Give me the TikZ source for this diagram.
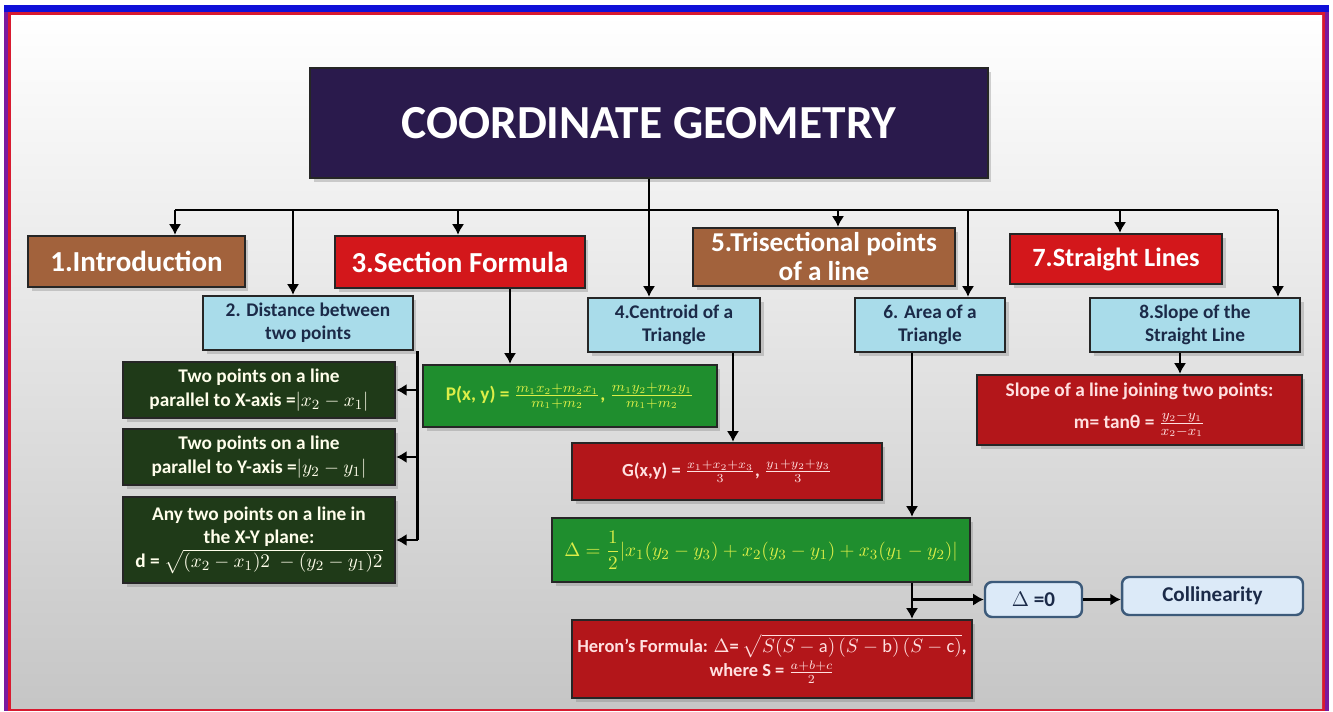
\documentclass[tikz,border=0pt]{standalone}
\usepackage{fontspec}
\setmainfont{Carlito}
\usepackage{amsmath}
\usepackage{xcolor}
\usepackage{tikz}
\usetikzlibrary{
	arrows.meta,shadows
}

\definecolor{titlepurple}{HTML}{2A1A4C}
\definecolor{clay}{HTML}{A2623C}
\definecolor{boxred}{HTML}{D3171B}
\definecolor{darkred}{HTML}{B3161A}
\definecolor{iceblue}{HTML}{A9DCEA}
\definecolor{navy}{HTML}{1B2A48}
\definecolor{forest}{HTML}{1F3A18}
\definecolor{grass}{HTML}{1F8E2E}
\definecolor{lime}{HTML}{DCEE48}
\definecolor{paleblue}{HTML}{DCEAF8}
\definecolor{slateblue}{HTML}{3C5A7A}
\definecolor{frameblue}{HTML}{1010D8}
\definecolor{framepurple}{HTML}{7A1A9E}
\definecolor{framered}{HTML}{D81A30}

\tikzset{
	box/.style={draw=black!85, line width=1.4pt, align=center, inner sep=2pt,
		drop shadow={opacity=0.35, shadow xshift=2pt, shadow yshift=-2pt}},
	titlebox/.style={box, fill=titlepurple, text=white,
		font=\fontsize{27}{32}\selectfont\bfseries},
	claybox/.style={box, fill=clay, text=white, font=\fontsize{16.5}{18}\selectfont\bfseries},
	redbox/.style={box, fill=boxred, text=white, font=\fontsize{16.5}{18}\selectfont\bfseries},
	icebox/.style={box, fill=iceblue, text=navy, font=\fontsize{11}{13}\selectfont\bfseries},
	forestbox/.style={box, fill=forest, text=white!92!yellow, font=\fontsize{11}{13.5}\selectfont\bfseries},
	grassbox/.style={box, fill=grass, text=lime, font=\fontsize{11}{13}\selectfont\bfseries},
	formbox/.style={box, fill=darkred, text=white!88!red, font=\fontsize{10.5}{13}\selectfont\bfseries},
	roundbox/.style={draw=slateblue, line width=1.4pt, rounded corners=4pt, fill=paleblue,
		text=navy, font=\fontsize{12}{14}\selectfont\bfseries},
}

\begin{document}
\begin{tikzpicture}[x=0.02cm, y=-0.02cm, >={Latex[length=6pt,width=7pt]}, line width=1.6pt]
	% frame and background
	\useasboundingbox (0,0) rectangle (1333,711);
	\fill[white] (0,0) rectangle (1333,711);
	\fill[framepurple] (4,5) rectangle (1329,711);
	\fill[frameblue] (4,5) rectangle (1329,12);
	\fill[framered] (8,12) rectangle (1325,711);
	\shade[top color=white, middle color=gray!8, bottom color=gray!45] (11,15) rectangle (1322,708);
	%
	\node[titlebox, minimum width=13.56cm, minimum height=2.2cm] (title) at (649,123) {COORDINATE GEOMETRY};
	%
	\node[claybox, minimum width=4.34cm, minimum height=1.02cm] (intro) at (136.5,261.5) {1.Introduction};
	\node[redbox, minimum width=5cm, minimum height=1.04cm] (sec) at (460,262) {3.Section Formula};
	\node[claybox, font=\fontsize{15.5}{16.5}\selectfont\bfseries, minimum width=5.24cm, minimum height=1.16cm] (tri) at (824,257) {5.Trisectional points\\of a line};
	\node[redbox, font=\fontsize{15}{17}\selectfont\bfseries, minimum width=4.24cm, minimum height=1cm] (str) at (1116,259) {7.Straight Lines};
	%
	\node[icebox, minimum width=4.2cm, minimum height=1.08cm] (dist) at (308,323) {2. Distance between\\two points};
	\node[icebox, minimum width=3.44cm, minimum height=1.08cm] (cen) at (674,325) {4.Centroid of a\\Triangle};
	\node[icebox, minimum width=3cm, minimum height=1.08cm] (area) at (930,325) {6. Area of a\\Triangle};
	\node[icebox, minimum width=4.2cm, minimum height=1.08cm] (slope) at (1195,325) {8.Slope of the\\Straight Line};
	%
	\node[forestbox, minimum width=5.44cm, minimum height=1.12cm] (xpar) at (259,390) {Two points on a line\\parallel to X-axis =$|x_2-x_1|$};
	\node[forestbox, minimum width=5.44cm, minimum height=1.12cm] (ypar) at (259,457) {Two points on a line\\parallel to Y-axis =$|y_2-y_1|$};
	\node[forestbox, minimum width=5.44cm, minimum height=1.72cm] (anyd) at (259,540) {Any two points on a line in\\the X-Y plane:\\d = $\sqrt{(x_2-x_1)2\;-(y_2-y_1)2}$};
	%
	\node[grassbox, minimum width=5.88cm, minimum height=1.24cm] (pxy) at (570,396) {P(x, y) = $\frac{m_1x_2+m_2x_1}{m_1+m_2}$, $\frac{m_1y_2+m_2y_1}{m_1+m_2}$};
	\node[formbox, minimum width=6.2cm, minimum height=1.14cm] (gxy) at (727,471.5) {G(x,y) = $\frac{x_1+x_2+x_3}{3}$, $\frac{y_1+y_2+y_3}{3}$};
	\node[grassbox, font=\fontsize{11}{13}\selectfont\bfseries, minimum width=8.36cm, minimum height=1.28cm] (delta) at (761,550) {$\Delta = \dfrac{1}{2}|x_1(y_2-y_3)+x_2(y_3-y_1)+x_3(y_1-y_2)|$};
	\node[formbox, minimum width=8cm, minimum height=1.56cm] (heron) at (772,659) {Heron's Formula: $\Delta$= $\sqrt{S(S-\mathrm{a})\,(S-\mathrm{b})\,(S-\mathrm{c})}$,\\[1pt]where S = $\frac{a+b+c}{2}$};
	\node[formbox, font=\fontsize{11}{14}\selectfont\bfseries, minimum width=6.5cm, minimum height=1.4cm] (slopeeq) at (1139.5,410) {Slope of a line joining two points:\\[4pt]m= tanθ = $\frac{y_2-y_1}{x_2-x_1}$};
	%
	\node[roundbox, minimum width=1.94cm, minimum height=0.7cm] (zero) at (1033.5,599.5) {$\Delta$ =0};
	\node[roundbox, minimum width=3.62cm, minimum height=0.76cm] (collin) at (1212.5,596) {Collinearity};
	%
	% main bus
	\coordinate (busL) at (175,210);
	\coordinate (busR) at (1278,210);
	\draw (busL) -- (busR);
	\draw[->] (title.south) -- (title.south |- cen.north);
	\foreach \x/\n in {175/intro,293/dist,458/sec,838/tri,968/area,1120/str,1278/slope}
		\draw[->] (\x,210) coordinate (bus-\n) -- (bus-\n |- \n.north);
	%
	% distance branch
	\coordinate (dtrunk) at ([xshift=2pt]dist.south east);
	\draw (dtrunk) -- (dtrunk |- anyd.east);
	\draw[->] (dtrunk |- xpar.east) -- (xpar.east);
	\draw[->] (dtrunk |- ypar.east) -- (ypar.east);
	\draw[->] (dtrunk |- anyd.east) -- (anyd.east);
	%
	\coordinate (sd) at ([xshift=1cm]sec.south);
	\draw[->] (sd) -- (sd |- pxy.north);
	\coordinate (cd) at ([xshift=1.18cm]cen.south);
	\draw[->] (cd) -- (cd |- gxy.north);
	\coordinate (ad) at ([xshift=-0.36cm]area.south);
	\draw[->] (ad) -- (ad |- delta.north);
	\draw[->] (ad |- delta.south) -- (ad |- heron.north);
	\draw[->] (ad |- zero.west) -- (zero.west);
	\draw[->] (zero.east) -- (collin.west |- zero.east);
	\coordinate (ld) at ([xshift=-0.3cm]slope.south);
	\draw[->] (ld) -- (ld |- slopeeq.north);
\end{tikzpicture}
\end{document}
